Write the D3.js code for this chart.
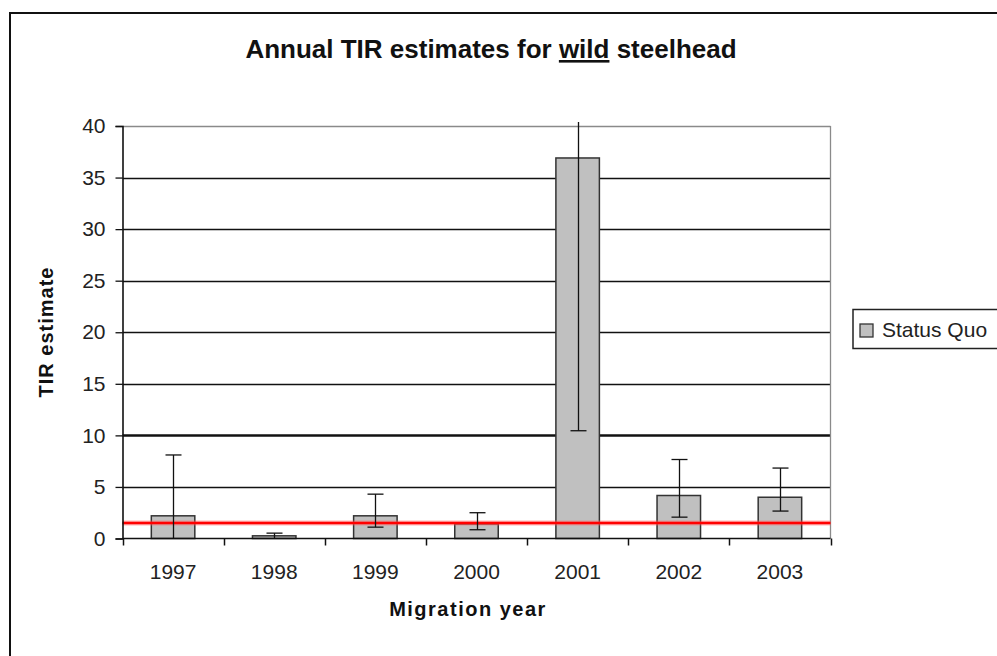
<!DOCTYPE html>
<html>
<head>
<meta charset="utf-8">
<script src="https://cdn.jsdelivr.net/npm/d3@7"></script>
<style>
  html, body { margin: 0; padding: 0; background: #fff; }
  svg { display: block; }
  text { font-family: "Liberation Sans", Arial, sans-serif; }
</style>
</head>
<body>
<svg id="chart" width="997" height="656"></svg>
<script>
const years = ["1997", "1998", "1999", "2000", "2001", "2002", "2003"];
const estimates = [2.2, 0.26, 2.2, 1.42, 36.9, 4.17, 4.0];
const errUpper = [8.1, 0.52, 4.3, 2.5, 40.4, 7.66, 6.83];
const errLower = [0, 0, 1.1, 0.85, 10.45, 2.07, 2.66];
const yTicks = [0, 5, 10, 15, 20, 25, 30, 35, 40];
const threshold = 1.5;
const seriesName = "Status Quo";

(function () {
const svg = d3.select("#chart");

// outer frame
svg.append("rect").attr("x", 10).attr("y", 13).attr("width", 1100).attr("height", 700)
  .attr("fill", "#fff").attr("stroke", "#111").attr("stroke-width", 2);

const pLeft = 122.5, pRight = 830.5, pTop = 126, pBottom = 538.5;

const x = d3.scaleBand().domain(years).range([pLeft, pRight]).paddingInner(0.57).paddingOuter(0.285);
const y = d3.scaleLinear().domain([0, 40]).range([pBottom, pTop]);

// gridlines
svg.append("g").selectAll("line").data(yTicks.filter(t => t > 0)).join("line")
  .attr("x1", pLeft).attr("x2", pRight)
  .attr("y1", d => Math.round(y(d)) + 0.5).attr("y2", d => Math.round(y(d)) + 0.5)
  .attr("stroke", d => d === 40 ? "#8a8a8a" : "#111")
  .attr("stroke-width", d => d === 10 ? 2.4 : 1.3);

// right border of plot area
svg.append("line").attr("x1", pRight).attr("x2", pRight).attr("y1", pTop).attr("y2", pBottom)
  .attr("stroke", "#8a8a8a").attr("stroke-width", 1.3);

// bars
svg.append("g").selectAll("rect").data(years).join("rect")
  .attr("x", d => x(d)).attr("width", x.bandwidth())
  .attr("y", (d, i) => y(estimates[i])).attr("height", (d, i) => pBottom - y(estimates[i]))
  .attr("fill", "#c0c0c0").attr("stroke", "#333").attr("stroke-width", 1.5);

// red threshold line
svg.append("line").attr("x1", pLeft).attr("x2", pRight)
  .attr("y1", y(threshold)).attr("y2", y(threshold))
  .attr("stroke", "#ff6060").attr("stroke-width", 5).attr("opacity", 0.45);
svg.append("line").attr("x1", pLeft).attr("x2", pRight)
  .attr("y1", y(threshold)).attr("y2", y(threshold))
  .attr("stroke", "#ff0000").attr("stroke-width", 2.5);

// error bars
const eb = svg.append("g").attr("stroke", "#111").attr("stroke-width", 1.3);
years.forEach((yr, i) => {
  const cx = Math.round(x(yr) + x.bandwidth() / 2) + 0.5;
  eb.append("line").attr("x1", cx).attr("x2", cx)
    .attr("y1", y(errUpper[i])).attr("y2", y(errLower[i]));
  const capW = 8;
  if (errUpper[i] < 40) eb.append("line").attr("x1", cx - capW).attr("x2", cx + capW)
    .attr("y1", y(errUpper[i])).attr("y2", y(errUpper[i]));
  if (errLower[i] > 0) eb.append("line").attr("x1", cx - capW).attr("x2", cx + capW)
    .attr("y1", y(errLower[i])).attr("y2", y(errLower[i]));
});

// y axis
const yAxis = svg.append("g").attr("transform", `translate(${pLeft},0)`)
  .call(d3.axisLeft(y).tickValues(yTicks).tickSize(7).tickPadding(10));
yAxis.select(".domain").attr("stroke", "#111").attr("stroke-width", 1.6);
yAxis.selectAll(".tick line").attr("stroke", "#111").attr("stroke-width", 1.3);
yAxis.selectAll(".tick text").attr("font-size", 21).attr("fill", "#222")
  .attr("font-family", "Liberation Sans, Arial, sans-serif");

// x axis baseline and boundary ticks
svg.append("line").attr("x1", pLeft).attr("x2", pRight).attr("y1", pBottom).attr("y2", pBottom)
  .attr("stroke", "#111").attr("stroke-width", 1.6);
const boundaries = years.map(d => x(d) - x.step() * x.paddingInner() / 2).concat([pRight]);
svg.append("g").selectAll("line").data(boundaries).join("line")
  .attr("x1", d => Math.round(d) + 0.5).attr("x2", d => Math.round(d) + 0.5)
  .attr("y1", pBottom).attr("y2", pBottom + 7)
  .attr("stroke", "#111").attr("stroke-width", 1.5);
svg.append("g").selectAll("text").data(years).join("text")
  .attr("x", d => x(d) + x.bandwidth() / 2).attr("y", 579)
  .attr("text-anchor", "middle").attr("font-size", 21).attr("fill", "#222")
  .text(d => d);

// title
const title = svg.append("text").attr("x", 491).attr("y", 58).attr("text-anchor", "middle")
  .attr("font-size", 26).attr("font-weight", "bold").attr("fill", "#111");
title.append("tspan").text("Annual TIR estimates for ");
title.append("tspan").attr("text-decoration", "underline").text("wild");
title.append("tspan").text(" steelhead");

// axis titles
svg.append("text").attr("x", 468).attr("y", 616).attr("text-anchor", "middle")
  .attr("font-size", 20).attr("font-weight", "bold").attr("letter-spacing", 1.5)
  .attr("fill", "#111").text("Migration year");
svg.append("text").attr("transform", "translate(53,332) rotate(-90)").attr("text-anchor", "middle")
  .attr("font-size", 20).attr("font-weight", "bold").attr("letter-spacing", 1)
  .attr("fill", "#111").text("TIR estimate");

// legend
svg.append("rect").attr("x", 853).attr("y", 309.5).attr("width", 200).attr("height", 39)
  .attr("fill", "#fff").attr("stroke", "#222").attr("stroke-width", 1.5);
svg.append("rect").attr("x", 860).attr("y", 324).attr("width", 13).attr("height", 13)
  .attr("fill", "#c0c0c0").attr("stroke", "#333").attr("stroke-width", 1.3);
svg.append("text").attr("x", 882).attr("y", 337).attr("font-size", 21).attr("fill", "#222")
  .text(seriesName);
})();
</script>
</body>
</html>
